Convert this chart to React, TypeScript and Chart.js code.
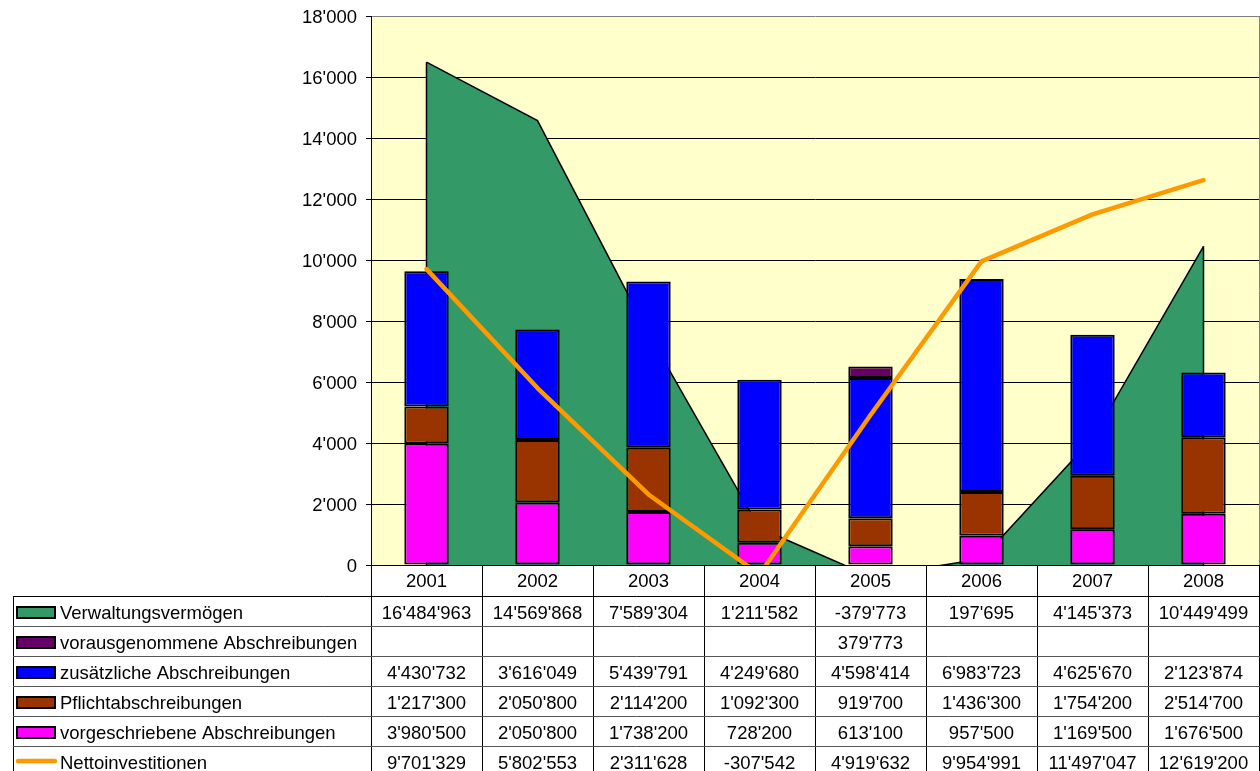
import React, { useEffect, useRef } from "react";
import { Chart, registerables } from "chart.js";

Chart.register(...registerables);

const years = ["2001", "2002", "2003", "2004", "2005", "2006", "2007", "2008"];
const verwaltungsvermoegen = [16484963, 14569868, 7589304, 1211582, -379773, 197695, 4145373, 10449499];
const vorausgenommene: (number | null)[] = [null, null, null, null, 379773, null, null, null];
const zusaetzliche = [4430732, 3616049, 5439791, 4249680, 4598414, 6983723, 4625670, 2123874];
const pflicht = [1217300, 2050800, 2114200, 1092300, 919700, 1436300, 1754200, 2514700];
const vorgeschriebene = [3980500, 2050800, 1738200, 728200, 613100, 957500, 1169500, 1676500];
const netto = [9701329, 5802553, 2311628, -307542, 4919632, 9954991, 11497047, 12619200];
const yMin = 0;
const yMax = 18000;
const yStep = 2000;

const FONT = "'Liberation Sans', Arial, sans-serif";
const FONT_SIZE = 18.5;

function fmt(v: number | null): string {
  if (v === null || v === undefined) return "";
  const s = Math.abs(Math.round(v)).toString().replace(/\B(?=(\d{3})+(?!\d))/g, "'");
  return (v < 0 ? "-" : "") + s;
}

const toK = (arr: (number | null)[]) => arr.map((v) => (v === null ? null : v / 1000));

const tableRows = [
  { label: "Verwaltungsvermögen", values: verwaltungsvermoegen, color: "#339966", kind: "box" },
  { label: "vorausgenommene Abschreibungen", values: vorausgenommene, color: "#660066", kind: "box" },
  { label: "zusätzliche Abschreibungen", values: zusaetzliche, color: "#0000FF", kind: "box" },
  { label: "Pflichtabschreibungen", values: pflicht, color: "#993300", kind: "box" },
  { label: "vorgeschriebene Abschreibungen", values: vorgeschriebene, color: "#FF00FF", kind: "box" },
  { label: "Nettoinvestitionen", values: netto, color: "#FF9900", kind: "line" },
];

const tablePlugin = {
  id: "dataTable",
  beforeDraw(chart: any) {
    const { ctx, chartArea: a } = chart;
    ctx.save();
    ctx.fillStyle = "#FFFFCC";
    ctx.fillRect(a.left, a.top, a.right - a.left, a.bottom - a.top);
    ctx.restore();
  },
  afterDatasetDraw(chart: any, args: any) {
    if (args.index !== 0) return;
    const { ctx, chartArea: a } = chart;
    const pts = args.meta.data;
    const y0 = chart.scales.y.getPixelForValue(0);
    ctx.save();
    ctx.beginPath();
    ctx.rect(a.left, a.top, a.right - a.left, a.bottom - a.top);
    ctx.clip();
    ctx.strokeStyle = "#000";
    ctx.lineWidth = 1.5;
    [pts[0], pts[pts.length - 1]].forEach((p: any) => {
      ctx.beginPath();
      ctx.moveTo(p.x, p.y);
      ctx.lineTo(p.x, y0);
      ctx.stroke();
    });
    ctx.restore();
  },
  afterDraw(chart: any) {
    const { ctx, chartArea: a } = chart;
    const n = years.length;
    const cw = (a.right - a.left) / n;
    const tableLeft = 13;
    const catTop = a.bottom;
    const catH = 31;
    const rowTop0 = catTop + catH;
    const rowH = 30;
    const tableBottom = rowTop0 + rowH * tableRows.length;
    ctx.save();
    ctx.strokeStyle = "#808080";
    ctx.lineWidth = 1;
    ctx.beginPath();
    ctx.moveTo(a.right + 0.5, a.top);
    ctx.lineTo(a.right + 0.5, a.bottom);
    ctx.stroke();
    ctx.strokeStyle = "#000";
    ctx.beginPath();
    ctx.moveTo(a.left - 5, Math.round(a.bottom) + 0.5);
    ctx.lineTo(a.right + 1, Math.round(a.bottom) + 0.5);
    ctx.stroke();
    for (let i = 0; i <= n; i++) {
      const x = Math.round(a.left + i * cw) + 0.5;
      ctx.beginPath();
      ctx.moveTo(x, catTop);
      ctx.lineTo(x, tableBottom);
      ctx.stroke();
    }
    ctx.beginPath();
    ctx.moveTo(tableLeft + 0.5, rowTop0);
    ctx.lineTo(tableLeft + 0.5, tableBottom);
    ctx.stroke();
    for (let r = 0; r <= tableRows.length; r++) {
      const y = rowTop0 + r * rowH + 0.5;
      ctx.strokeStyle = r === 0 ? "#000" : "#555";
      ctx.beginPath();
      ctx.moveTo(tableLeft, y);
      ctx.lineTo(a.right + 1, y);
      ctx.stroke();
    }
    ctx.fillStyle = "#000";
    ctx.font = `${FONT_SIZE}px ${FONT}`;
    ctx.textBaseline = "alphabetic";
    ctx.textAlign = "center";
    years.forEach((yr, i) => {
      ctx.fillText(yr, a.left + (i + 0.5) * cw, catTop + 22);
    });
    tableRows.forEach((row, r) => {
      const top = rowTop0 + r * rowH;
      if (row.kind === "box") {
        ctx.fillStyle = row.color;
        ctx.fillRect(17, top + 11, 38, 11);
        ctx.strokeStyle = "#000";
        ctx.lineWidth = 2;
        ctx.strokeRect(17, top + 11, 38, 11);
      } else {
        ctx.strokeStyle = row.color;
        ctx.lineWidth = 4.5;
        ctx.lineCap = "round";
        ctx.beginPath();
        ctx.moveTo(18, top + 15);
        ctx.lineTo(55, top + 15);
        ctx.stroke();
      }
      ctx.lineWidth = 1;
      ctx.fillStyle = "#000";
      ctx.textAlign = "left";
      ctx.fillText(row.label, 60, top + 23);
      ctx.textAlign = "center";
      row.values.forEach((v, i) => {
        ctx.fillText(fmt(v as number | null), a.left + (i + 0.5) * cw, top + 23);
      });
    });
    ctx.restore();
  },
};

export default function App() {
  const canvasRef = useRef<HTMLCanvasElement | null>(null);

  useEffect(() => {
    const canvas = canvasRef.current;
    if (!canvas) return;
    const barCommon = {
      type: "bar" as const,
      stack: "bars",
      order: 2,
      borderColor: "#000000",
      borderWidth: 2,
      borderSkipped: false,
      barPercentage: 0.4,
      categoryPercentage: 1.0,
      clip: 0,
    };
    const chart = new Chart(canvas, {
      type: "bar",
      data: {
        labels: years,
        datasets: [
          {
            type: "line",
            label: "Verwaltungsvermögen",
            data: toK(verwaltungsvermoegen),
            stack: "area",
            order: 3,
            fill: "origin",
            backgroundColor: "#339966",
            borderColor: "#000000",
            borderWidth: 1.5,
            pointRadius: 0,
            tension: 0,
            clip: 0,
          } as any,
          { ...barCommon, label: "vorgeschriebene Abschreibungen", data: toK(vorgeschriebene), backgroundColor: "#FF00FF" },
          { ...barCommon, label: "Pflichtabschreibungen", data: toK(pflicht), backgroundColor: "#993300" },
          { ...barCommon, label: "zusätzliche Abschreibungen", data: toK(zusaetzliche), backgroundColor: "#0000FF" },
          { ...barCommon, label: "vorausgenommene Abschreibungen", data: toK(vorausgenommene), backgroundColor: "#660066" },
          {
            type: "line",
            label: "Nettoinvestitionen",
            data: toK(netto),
            stack: "net",
            order: 1,
            fill: false,
            borderColor: "#FF9900",
            borderWidth: 4.5,
            borderCapStyle: "round",
            borderJoinStyle: "round",
            pointRadius: 0,
            tension: 0,
            clip: 0,
          } as any,
        ],
      },
      options: {
        responsive: false,
        animation: false,
        devicePixelRatio: 1,
        layout: { padding: { top: 16, right: 1, bottom: 206, left: 0 } },
        plugins: {
          legend: { display: false },
          tooltip: { enabled: false },
          title: { display: false },
        },
        scales: {
          x: {
            type: "category",
            display: false,
            offset: true,
            stacked: true,
          },
          y: {
            stacked: true,
            min: yMin,
            max: yMax,
            afterFit: (scale: any) => {
              scale.width = 371;
              scale.paddingTop = 0;
              scale.paddingBottom = 0;
            },
            ticks: {
              stepSize: yStep,
              color: "#000",
              padding: 9,
              labelOffset: 1.5,
              font: { family: FONT, size: FONT_SIZE },
              callback: (v: any) => fmt(Number(v)),
            },
            grid: {
              color: (c: any) => (c.tick && c.tick.value === yMax ? "#808080" : "#000000"),
              tickColor: "#000000",
              tickLength: 5,
              lineWidth: 1,
            },
            border: { display: true, color: "#000000", width: 1 },
          },
        },
      },
      plugins: [tablePlugin],
    } as any);
    return () => chart.destroy();
  }, []);

  return (
    <div style={{ position: "absolute", left: 0, top: 0, width: 1260, height: 771, overflow: "hidden", background: "#fff" }}>
      <canvas ref={canvasRef} width={1260} height={771} style={{ display: "block" }} />
    </div>
  );
}
